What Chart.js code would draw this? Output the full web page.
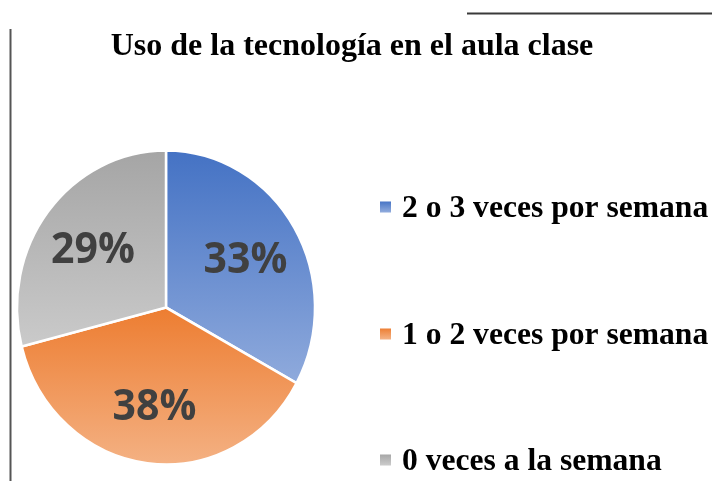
<!DOCTYPE html>
<html>
<head>
<meta charset="utf-8">
<script src="https://cdn.jsdelivr.net/npm/chart.js@4"></script>
<style>
  html, body { margin:0; padding:0; background:#fff; }
  canvas { display:block; }
</style>
</head>
<body>
<canvas id="chart" width="712" height="481"></canvas>
<script>
// data
const titleText = 'Uso de la tecnología en el aula clase';
const categories = ['2 o 3 veces por semana', '1 o 2 veces por semana', '0 veces a la semana'];
const values = [33, 38, 29];
const topColors = ['#4472C4', '#ED7D31', '#A5A5A5'];
const bottomColors = ['#8FAADC', '#F4B183', '#CACACA'];

const RADIUS = 149;
const STRETCH_Y = 1.054; // the picture is a bit taller than wide

function pieCenter(chart){
  const a = chart.chartArea;
  return { x:(a.left + a.right) / 2, y:(a.top + a.bottom) / 2 };
}

// vertical gradient over each slice's own height, dark on top
function sliceGradient(ctx){
  const chart = ctx.chart;
  const i = ctx.dataIndex;
  if(!chart.chartArea || i === undefined) return topColors[i || 0];
  const c = pieCenter(chart);
  const total = values.reduce((s, v) => s + v, 0);
  let start = 0;
  for(let k = 0; k < i; k++) start += values[k] / total * Math.PI * 2;
  const end = start + values[i] / total * Math.PI * 2;
  let ymin = c.y, ymax = c.y;
  for(let a = start; a <= end; a += 0.01){
    const y = c.y - Math.cos(a) * RADIUS;
    ymin = Math.min(ymin, y); ymax = Math.max(ymax, y);
  }
  const g = chart.ctx.createLinearGradient(0, ymin, 0, ymax);
  g.addColorStop(0, topColors[i]);
  g.addColorStop(1, bottomColors[i]);
  return g;
}

// stretch the pie a little and write the percentages on it
const pieDecor = {
  id:'pieDecor',
  beforeDatasetsDraw(chart){
    const ctx = chart.ctx, c = pieCenter(chart);
    ctx.save();
    ctx.translate(c.x, c.y); ctx.scale(1, STRETCH_Y); ctx.translate(-c.x, -c.y);
  },
  afterDatasetsDraw(chart){
    const ctx = chart.ctx;
    const size = 41;
    ctx.font = 'bold ' + size + 'px "Open Sans", "Noto Sans", sans-serif';
    ctx.fillStyle = '#404040';
    ctx.textAlign = 'center';
    ctx.textBaseline = 'alphabetic';
    chart.getDatasetMeta(0).data.forEach((arc, i) => {
      const mid = (arc.startAngle + arc.endAngle) / 2;
      const d = arc.outerRadius * 0.62;
      const x = arc.x + Math.cos(mid) * d;
      const y = arc.y + Math.sin(mid) * d;
      ctx.fillText(values[i] + '%', x, y + size * 0.36);
    });
    ctx.restore();
  },
  afterDraw(chart){
    const ctx = chart.ctx;
    ctx.save();
    // frame lines
    ctx.strokeStyle = '#555';
    ctx.lineWidth = 2;
    ctx.beginPath(); ctx.moveTo(10.5, 29); ctx.lineTo(10.5, 481); ctx.stroke();
    ctx.strokeStyle = '#3a3a3a';
    ctx.beginPath(); ctx.moveTo(467, 13.5); ctx.lineTo(712, 13.5); ctx.stroke();
    // title
    ctx.fillStyle = '#000';
    ctx.font = 'bold 32px "Liberation Serif", "Times New Roman", serif';
    ctx.textAlign = 'center';
    ctx.textBaseline = 'alphabetic';
    ctx.fillText(titleText, 352, 55);
    // legend
    ctx.font = 'bold 31.6px "Liberation Serif", "Times New Roman", serif';
    ctx.textAlign = 'left';
    const rowY = [217, 344, 470];
    categories.forEach((label, i) => {
      const y = rowY[i];
      const g = ctx.createLinearGradient(0, y - 16, 0, y - 5);
      g.addColorStop(0, topColors[i]); g.addColorStop(1, bottomColors[i]);
      ctx.fillStyle = g;
      ctx.fillRect(380, y - 15.5, 11, 11);
      ctx.fillStyle = '#000';
      ctx.fillText(label, 402, y);
    });
    ctx.restore();
  }
};

new Chart(document.getElementById('chart'), {
  type:'pie',
  data:{
    labels:categories,
    datasets:[{
      data:values,
      backgroundColor:sliceGradient,
      borderColor:'#fff',
      borderWidth:2.5
    }]
  },
  options:{
    responsive:false,
    animation:false,
    events:[],
    radius:RADIUS,
    layout:{ padding:{ left:10, right:390, top:150, bottom:16 } },
    plugins:{ legend:{ display:false }, title:{ display:false }, tooltip:{ enabled:false } }
  },
  plugins:[pieDecor]
});
</script>
</body>
</html>
